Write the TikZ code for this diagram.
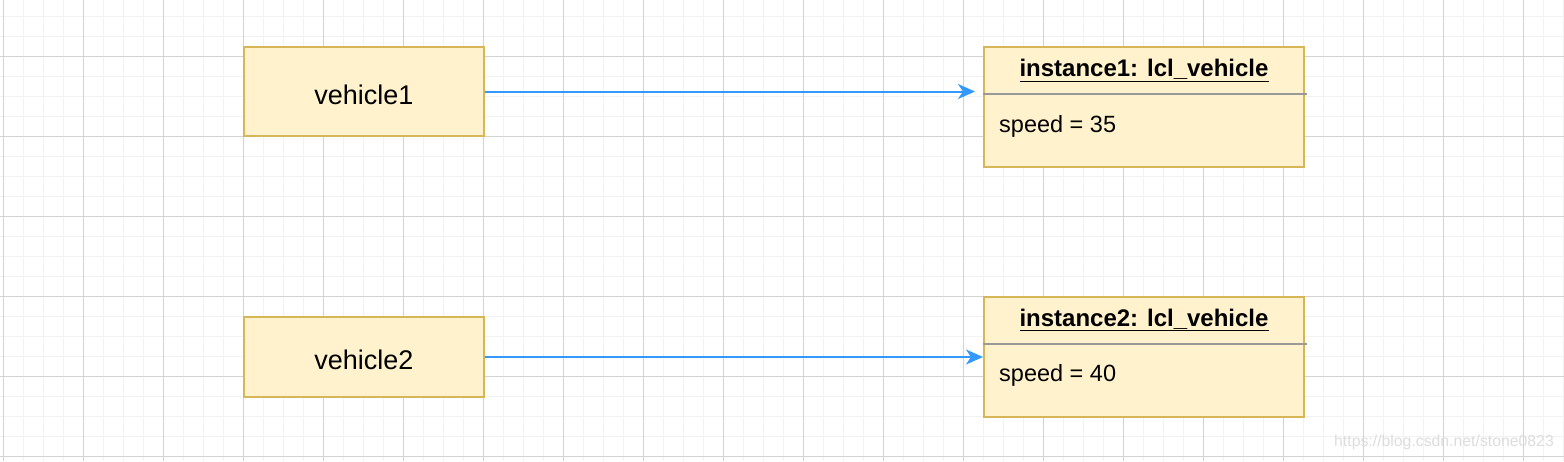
\documentclass[tikz,border=0pt]{standalone}
\usepackage{fontspec}
\setmainfont{Liberation Sans}
\usetikzlibrary{arrows.meta}
\definecolor{boxfill}{HTML}{FFF2CC}
\definecolor{boxline}{HTML}{D6B656}
\definecolor{arrowblue}{HTML}{3399FF}
\definecolor{gridminor}{HTML}{F2F2F2}
\definecolor{gridmajor}{HTML}{D3D3D3}
\definecolor{sepgray}{HTML}{999999}
\definecolor{wmark}{HTML}{DDDDDD}
\tikzset{
  vbox/.style={draw=boxline, fill=boxfill, line width=2pt, rectangle, inner sep=0pt,
    minimum width=240pt, minimum height=89pt},
  vtext/.style={inner sep=0pt, font=\fontsize{27}{32}\selectfont},
  ibox/.style={draw=boxline, fill=boxfill, line width=2pt, rectangle, inner sep=0pt,
    minimum width=320pt, minimum height=120pt},
  headtext/.style={inner sep=0pt, font=\fontsize{24}{28}\selectfont\bfseries},
  bodytext/.style={inner sep=0pt, anchor=west, font=\fontsize{23.5}{28}\selectfont},
  sepline/.style={draw=sepgray, line width=2pt},
  link/.style={draw=arrowblue, line width=2pt, -{Stealth[length=17pt, width=15pt, inset=5pt]}},
  gminor/.style={draw=gridminor, line width=1pt},
  gmajor/.style={draw=gridmajor, line width=1pt}
}
\begin{document}
\begin{tikzpicture}[x=1pt, y=-1pt]
\useasboundingbox (0,0) rectangle (1564,461);
\fill[white] (0,0) rectangle (1564,461);
% grid
\foreach \gx in {3,23,...,1563} \draw[gminor] (\gx,0) -- (\gx,461);
\foreach \gy in {16,36,...,460} \draw[gminor] (0,\gy) -- (1564,\gy);
\foreach \gx in {3,83,...,1563} \draw[gmajor] (\gx,0) -- (\gx,461);
\foreach \gy in {56,136,...,460} \draw[gmajor] (0,\gy) -- (1564,\gy);
% vehicle boxes
\node[vbox] (v1) at (364,91.5) {};
\node[vbox, minimum height=80pt] (v2) at (364,357) {};
\node[vtext] (t1) at ([yshift=-3.5pt]v1.center) {vehicle1};
\node[vtext] (t2) at ([yshift=-2.5pt]v2.center) {vehicle2};
% instance boxes
\node[ibox] (i1) at (1144,107) {};
\node[ibox] (i2) at (1144,357) {};
\draw[sepline] ([yshift=-48pt]i1.north west) -- ([xshift=2pt,yshift=-48pt]i1.north east);
\draw[sepline] ([yshift=-48pt]i2.north west) -- ([xshift=2pt,yshift=-48pt]i2.north east);
\node[headtext] (h1) at ([yshift=-24.5pt]i1.north) {\underline{instance1: lcl\_vehicle}};
\node[headtext] (h2) at ([yshift=-24pt]i2.north) {\underline{instance2: lcl\_vehicle}};
\node[bodytext] (s1) at ([xshift=16pt,yshift=-80pt]i1.north west) {speed = 35};
\node[bodytext] (s2) at ([xshift=16pt,yshift=-79.5pt]i2.north west) {speed = 40};
% connectors
\coordinate (e1) at ([xshift=-8pt]i1.west |- v1.east);
\draw[link] (v1.east) -- (e1);
\draw[link] (v2.east) -- (i2.west);
% watermark
\node[inner sep=0pt, anchor=east, text=wmark, font=\fontsize{15.8}{19}\selectfont] (wm) at (1554,442) {https://blog.csdn.net/stone0823};
\end{tikzpicture}
\end{document}
